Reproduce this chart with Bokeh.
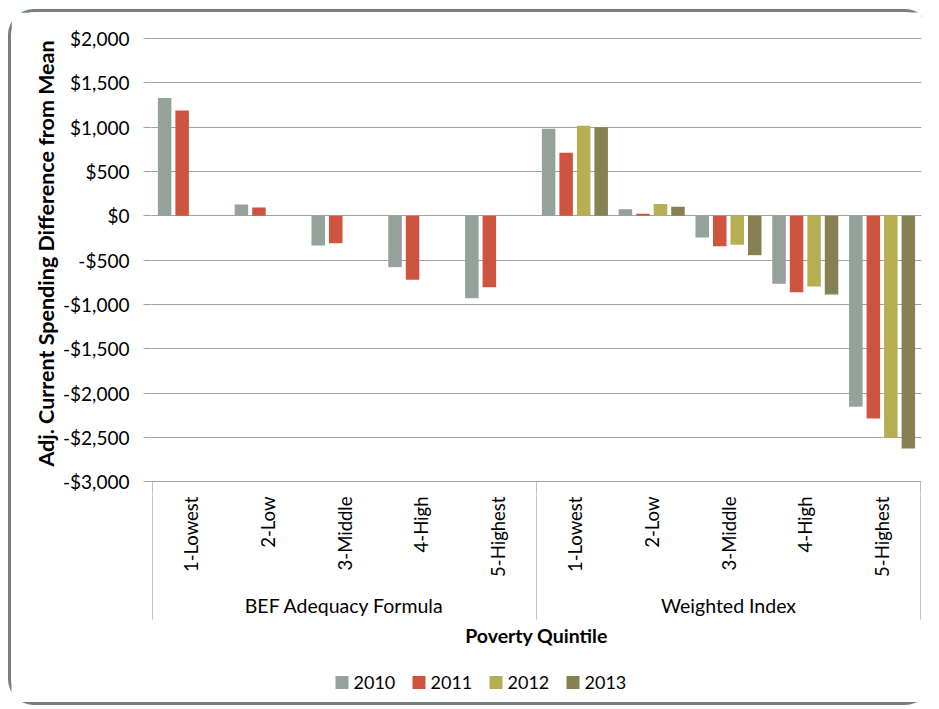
import math
from bokeh.plotting import figure
from bokeh.layouts import column
from bokeh.models import ColumnDataSource, Range1d, FixedTicker
from bokeh.transform import dodge
from bokeh.core.properties import value
from bokeh.embed import file_html
from bokeh.resources import INLINE

# ---------------- data ----------------
groups = ["BEF Adequacy Formula", "Weighted Index"]
quintiles = ["1-Lowest", "2-Low", "3-Middle", "4-High", "5-Highest"]
years = ["2010", "2011", "2012", "2013"]
colors = ["#94A299", "#CF543F", "#B5AE53", "#868053"]

bef_2010 = [1330, 128, -335, -579, -929]
bef_2011 = [1188, 94, -308, -722, -805]
wi_2010 = [981, 75, -244, -767, -2154]
wi_2011 = [711, 23, -342, -861, -2286]
wi_2012 = [1015, 132, -327, -797, -2504]
wi_2013 = [1000, 102, -444, -887, -2624]

y_ticks = [2000, 1500, 1000, 500, 0, -500, -1000, -1500, -2000, -2500, -3000]
y_tick_labels = ["$2,000", "$1,500", "$1,000", "$500", "$0", "-$500", "-$1,000",
                 "-$1,500", "-$2,000", "-$2,500", "-$3,000"]

y_title = "Adj. Current Spending Difference from Mean"
x_title = "Poverty Quintile"

series = {
    "2010": {groups[0]: bef_2010, groups[1]: wi_2010},
    "2011": {groups[0]: bef_2011, groups[1]: wi_2011},
    "2012": {groups[1]: wi_2012},
    "2013": {groups[1]: wi_2013},
}

# ---------------- layout / style ----------------
FONT = "Lato"
TXT = "#000000"
GRID = "#a3a3a3"
BOX = "#bfbfbf"
W = 920
nq = len(quintiles)
ncat = nq * len(groups)
CAT_PX = 76.8
PAD = 1.0                      # px of frame beyond the outer category edges
FRAME_L = 140
FRAME_W = int(round(ncat * CAT_PX + 2 * PAD))
FRAME_R = W - FRAME_L - FRAME_W
A_TOP = 0
A_FRAME_H = 482
A_H = A_TOP + A_FRAME_H
B_H = 208
UNIT_PER_PX = 5000 / 443.0
y_end = 2000 + 26 * UNIT_PER_PX
y_start = -3000 - 12.7 * UNIT_PER_PX

pA = figure(width=W, height=A_H, frame_width=FRAME_W, frame_height=A_FRAME_H,
            x_range=Range1d(-PAD / CAT_PX, ncat + PAD / CAT_PX),
            y_range=Range1d(y_start, y_end),
            output_backend="svg", toolbar_location=None, x_axis_location=None,
            min_border_left=FRAME_L, min_border_right=FRAME_R, min_border_top=A_TOP,
            min_border_bottom=0, outline_line_color=None)
pA.frame_align = False

ticker = FixedTicker(ticks=y_ticks)
ya = pA.yaxis[0]
ya.ticker = ticker
ya.major_label_overrides = dict(zip(y_ticks, y_tick_labels))
ya.axis_line_color = None
ya.major_tick_out = 8
ya.major_tick_in = 0
ya.major_tick_line_color = GRID
ya.minor_tick_line_color = None
ya.major_label_standoff = 14
ya.major_label_text_font = FONT
ya.major_label_text_font_size = "19px"
ya.major_label_text_color = TXT
ya.axis_label = y_title
ya.axis_label_text_font = FONT
ya.axis_label_text_font_style = "bold"
ya.axis_label_text_font_size = "21.5px"
ya.axis_label_text_color = TXT
ya.axis_label_standoff = 1

pA.xgrid.visible = False
pA.ygrid.ticker = ticker
pA.ygrid.grid_line_color = GRID
pA.ygrid.grid_line_width = 1

step = 0.228
offsets = [(i - 1.5) * step for i in range(len(years))]
for yi, yr in enumerate(years):
    xs, vs = [], []
    for gi, g in enumerate(groups):
        vals = series[yr].get(g)
        if vals is None:
            continue
        for qi, v in enumerate(vals):
            xs.append(gi * nq + qi + 0.5)
            vs.append(v)
    src = ColumnDataSource(dict(x=xs, v=vs))
    pA.vbar(x=dodge("x", offsets[yi], range=pA.x_range), top="v", width=0.176,
            source=src, fill_color=colors[yi], line_color=None)

# category box: upper part of the separators, inside the chart panel
bounds = [gi * nq for gi in range(len(groups) + 1)]
pA.segment(x0=bounds, y0=[y_ticks[-1]] * len(bounds), x1=bounds, y1=[y_start] * len(bounds),
           line_color=BOX, line_width=1)

# ---------------- lower panel: category box, labels, legend ----------------
B_LEFT = FRAME_L + PAD        # canvas px of category edge 0
pB = figure(width=W, height=B_H, frame_width=W, frame_height=B_H,
            x_range=Range1d(-B_LEFT / CAT_PX, (W - B_LEFT) / CAT_PX),
            y_range=Range1d(B_H, 0),
            output_backend="svg", toolbar_location=None,
            x_axis_location=None, y_axis_location=None,
            min_border=0, min_border_left=0, min_border_right=0,
            min_border_top=0, min_border_bottom=0, outline_line_color=None)
pB.frame_align = False
pB.grid.visible = False

pB.segment(x0=bounds, y0=[0] * len(bounds), x1=bounds, y1=[125] * len(bounds),
           line_color=BOX, line_width=1)

qx = [gi * nq + qi + 0.5 for gi in range(len(groups)) for qi in range(nq)]
qt = [q for _ in groups for q in quintiles]
pB.text(x=qx, y=[2] * len(qx), text=qt, angle=math.pi / 2, text_align="right",
        text_baseline="middle", text_font=value(FONT), text_font_size="18.5px", text_color=TXT)

gx = [gi * nq + nq / 2 for gi in range(len(groups))]
pB.text(x=gx, y=[111] * len(gx), text=groups, text_align="center", text_baseline="middle",
        text_font=value(FONT), text_font_size="19.5px", text_color=TXT)

pB.text(x=[ncat / 2], y=[141], text=[x_title], text_align="center", text_baseline="middle",
        text_font=value(FONT), text_font_size="19.5px", text_font_style="bold", text_color=TXT)

leg_x0 = (341.5 - 152) / CAT_PX
leg_step = 77 / CAT_PX
lx = [leg_x0 + i * leg_step for i in range(len(years))]
pB.rect(x=lx, y=[188] * len(lx), width=13, height=13, width_units="screen",
        height_units="screen", fill_color=colors, line_color=None)
pB.text(x=[v + 11.5 / CAT_PX for v in lx], y=[188] * len(lx), text=years,
        text_align="left", text_baseline="middle", text_font=value(FONT),
        text_font_size="18px", text_color=TXT)

layout = column(pA, pB, spacing=0, styles={
    "margin-left": "8px",
    "margin-top": "9px",
    "border-style": "solid",
    "border-color": "#76807a",
    "border-width": "3px 0px 3px 3px",
    "border-radius": "26px",
})

open("out.html", "w").write(file_html(layout, INLINE))
